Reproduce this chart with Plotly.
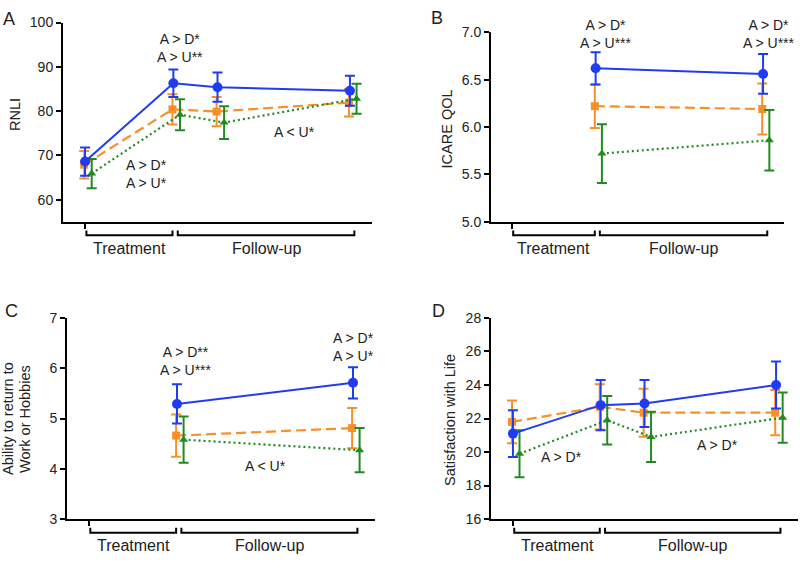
import plotly.graph_objects as go

# ---------------- data ----------------
groups = ["A", "D", "U"]

# Panel A: RNLI
a_time = [0, 2, 3, 6]
a_mean_A = [68.6, 86.3, 85.4, 84.6]
a_err_A = [3.2, 3.1, 3.3, 3.4]
a_mean_D = [67.9, 80.4, 79.9, 81.9]
a_err_D = [3.1, 3.4, 3.3, 3.1]
a_mean_U = [65.9, 79.2, 77.4, 82.8]
a_err_U = [3.3, 3.5, 3.7, 3.4]

# Panel B: ICARE QOL
b_time = [2, 6]
b_mean_A = [6.62, 6.56]
b_err_A = [0.17, 0.21]
b_mean_D = [6.22, 6.19]
b_err_D = [0.23, 0.27]
b_mean_U = [5.72, 5.86]
b_err_U = [0.31, 0.32]

# Panel C: Ability to return to Work or Hobbies
c_time = [2, 6]
c_mean_A = [5.29, 5.71]
c_err_A = [0.39, 0.31]
c_mean_D = [4.66, 4.81]
c_err_D = [0.42, 0.40]
c_mean_U = [4.58, 4.37]
c_err_U = [0.46, 0.44]

# Panel D: Satisfaction with Life
d_time = [0, 2, 3, 6]
d_mean_A = [21.1, 22.8, 22.9, 24.0]
d_err_A = [1.4, 1.5, 1.4, 1.4]
d_mean_D = [21.8, 22.7, 22.35, 22.35]
d_err_D = [1.27, 1.35, 1.43, 1.35]
d_mean_U = [19.9, 21.9, 20.9, 22.05]
d_err_U = [1.4, 1.45, 1.5, 1.5]

y_titles = [["RNLI"], ["ICARE QOL"], ["Ability to return to", "Work or Hobbies"], ["Satisfaction with Life"]]
panel_letters = ["A", "B", "C", "D"]
y_ranges = [[55, 100], [5.0, 7.0], [3, 7], [16, 28]]
y_ticks = [[60, 70, 80, 90, 100], [5.0, 5.5, 6.0, 6.5, 7.0], [3, 4, 5, 6, 7], [16, 18, 20, 22, 24, 26, 28]]
y_ticktext = [["60", "70", "80", "90", "100"], ["5.0", "5.5", "6.0", "6.5", "7.0"],
              ["3", "4", "5", "6", "7"], ["16", "18", "20", "22", "24", "26", "28"]]
bracket_labels = ["Treatment", "Follow-up"]
bracket_spans = [[0.03, 1.98], [2.1, 6.1]]

# significance annotations: (panel, x, y, text)
sig_notes = [
    (0, 2.16, 94.3, "A > D*<br>A > U**"),
    (0, 1.39, 65.75, "A > D*<br>A > U*"),
    (0, 4.74, 75.2, "A < U*"),
    (1, 2.24, 6.985, "A > D*<br>A > U***"),
    (1, 6.13, 6.985, "A > D*<br>A > U***"),
    (2, 2.2, 6.14, "A > D**<br>A > U***"),
    (2, 6.0, 6.42, "A > D*<br>A > U*"),
    (2, 4.01, 4.05, "A < U*"),
    (3, 1.11, 19.73, "A > D*"),
    (3, 4.67, 20.44, "A > D*"),
]

# ---------------- styling ----------------
W, H = 800, 565
FONT = "Arial, Liberation Sans, Helvetica, sans-serif"
TXT = "#222222"
colors = {"A": "#1f3cf2", "D": "#f7902a", "U": "#218a21"}
dashes = {"A": "solid", "D": "10px,5px", "U": "2px,3px"}
symbols = {"A": "circle", "D": "square", "U": "triangle-up"}
msizes = {"A": 10, "D": 8, "U": 8}
offsets = {"A": 0.0, "D": -0.02, "U": 0.15}

# panel boxes in pixels: (left, right, top, bottom)
boxes = [(63, 372, 15, 220), (491, 784, 25, 220), (67, 375, 319, 526), (491, 798, 319, 526)]
x_range = [-0.5, 6.5]


def px_x(p):
    return p / W


def px_y(p):
    return 1 - p / H


panels = [
    (a_time, {"A": (a_mean_A, a_err_A), "D": (a_mean_D, a_err_D), "U": (a_mean_U, a_err_U)}),
    (b_time, {"A": (b_mean_A, b_err_A), "D": (b_mean_D, b_err_D), "U": (b_mean_U, b_err_U)}),
    (c_time, {"A": (c_mean_A, c_err_A), "D": (c_mean_D, c_err_D), "U": (c_mean_U, c_err_U)}),
    (d_time, {"A": (d_mean_A, d_err_A), "D": (d_mean_D, d_err_D), "U": (d_mean_U, d_err_U)}),
]

fig = go.Figure()
layout = dict(width=W, height=H, margin=dict(l=0, r=0, t=0, b=0),
              paper_bgcolor="white", plot_bgcolor="white", showlegend=False,
              font=dict(family=FONT, color=TXT))
annotations = []
shapes = []

for i, (times, series) in enumerate(panels):
    k = "" if i == 0 else str(i + 1)
    xa, ya = "x" + k, "y" + k
    left, right, top, bottom = boxes[i]
    for g in ["D", "U", "A"]:
        mean, err = series[g]
        fig.add_trace(go.Scatter(
            x=[t + offsets[g] for t in times], y=mean,
            xaxis=xa, yaxis=ya, mode="lines+markers",
            line=dict(color=colors[g], width=2.2 if g != "A" else 2, dash=dashes[g]),
            marker=dict(symbol=symbols[g], size=msizes[g], color=colors[g]),
            error_y=dict(type="data", array=err, visible=True, color=colors[g],
                         thickness=2, width=5),
            cliponaxis=False,
        ))
    layout["xaxis" + k] = dict(domain=[px_x(left), px_x(right)], range=x_range,
                               anchor=ya, showline=True, linecolor="black", linewidth=2,
                               showgrid=False, zeroline=False, tickvals=[0],
                               ticks="outside", ticklen=5, tickwidth=2, tickcolor="black",
                               showticklabels=False)
    layout["yaxis" + k] = dict(domain=[px_y(bottom), px_y(top)], range=y_ranges[i],
                               anchor=xa, showline=True, linecolor="black", linewidth=2,
                               showgrid=False, zeroline=False,
                               tickvals=y_ticks[i], ticktext=y_ticktext[i],
                               ticks="outside", ticklen=5, tickwidth=2, tickcolor="black",
                               tickfont=dict(size=14, color=TXT, family=FONT))
    # brackets
    for (x0, x1), lab in zip(bracket_spans, bracket_labels):
        yl = px_y(bottom + 14)
        yt = px_y(bottom + 9)
        path = f"M {x0},{yt} L {x0},{yl} L {x1},{yl} L {x1},{yt}"
        shapes.append(dict(type="path", xref=xa, yref="paper", path=path,
                           line=dict(color="black", width=2)))
        annotations.append(dict(x=(x0 + x1) / 2, xref=xa, y=px_y(bottom + 27), yref="paper",
                                text=lab, showarrow=False, xanchor="center", yanchor="middle",
                                font=dict(size=16, color=TXT, family=FONT)))

# y-axis titles (one annotation per line)
title_pos = [[(15, 110)], [(447, 125)], [(8, 423), (25, 423)], [(450, 424)]]
for i, poss in enumerate(title_pos):
    for (tx, ty), line in zip(poss, y_titles[i]):
        annotations.append(dict(x=px_x(tx), y=px_y(ty), xref="paper", yref="paper",
                                text=line, showarrow=False, textangle=-90,
                                xanchor="center", yanchor="middle",
                                font=dict(size=14.5, color=TXT, family=FONT)))

# panel letters
letter_pos = [(9, 11), (437, 10), (11, 312), (438, 312)]
for i, (lx, ly) in enumerate(letter_pos):
    annotations.append(dict(x=px_x(lx), y=px_y(ly), xref="paper", yref="paper",
                            text=panel_letters[i], showarrow=False,
                            xanchor="center", yanchor="middle",
                            font=dict(size=18, color=TXT, family=FONT)))

# significance notes (y given in data units, placed via axis-domain fraction so
# notes above the axis top remain visible)
for p, x, y, t in sig_notes:
    k = "" if p == 0 else str(p + 1)
    lo, hi = y_ranges[p]
    annotations.append(dict(x=x, y=(y - lo) / (hi - lo), xref="x" + k, yref="y" + k + " domain",
                            text=t, showarrow=False, xanchor="center", yanchor="middle",
                            font=dict(size=14, color=TXT, family=FONT)))

layout["annotations"] = annotations
layout["shapes"] = shapes
fig.update_layout(**layout)
fig.write_html("out.html", config={"displayModeBar": False},
               post_script="document.body.style.margin='0';")
